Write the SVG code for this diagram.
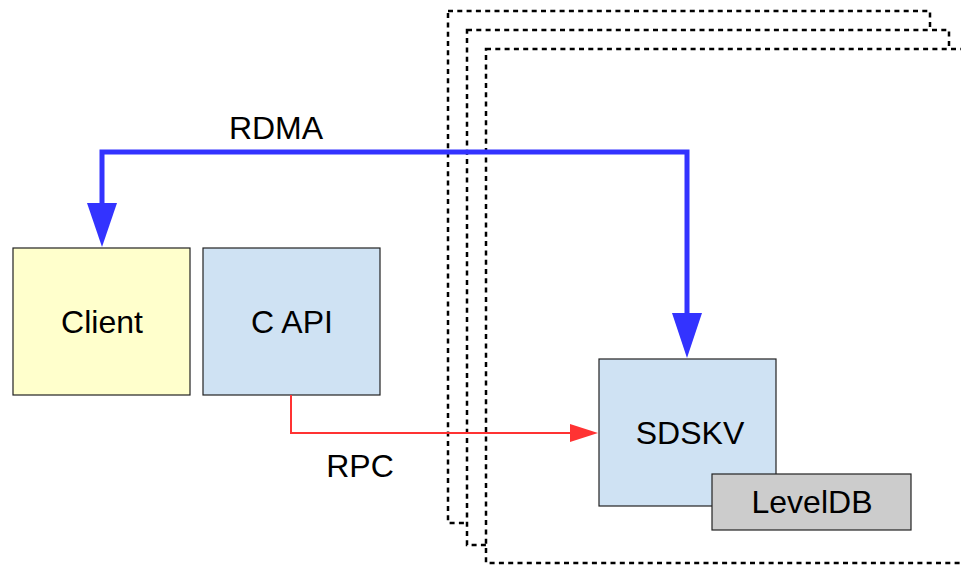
<svg xmlns="http://www.w3.org/2000/svg" width="961" height="565" viewBox="0 0 961 565">
<style>
.frame{fill:#fff;stroke:#000;stroke-width:2.5;stroke-dasharray:5,4.3}
.box{stroke:#222;stroke-width:1.2}
.lbl{font-family:"Liberation Sans",Arial,sans-serif;font-size:32px;fill:#000;text-anchor:middle}
.rdma{fill:none;stroke:#3333ff;stroke-width:5}
.rpc{fill:none;stroke:#ff3333;stroke-width:2}
</style>
<rect width="961" height="565" fill="#fff"/>
<g id="frames">
<rect class="frame" x="448" y="11" width="482" height="512"/>
<rect class="frame" x="467" y="30" width="482" height="515"/>
<rect class="frame" x="486" y="49" width="482" height="514"/>
</g>
<g id="client"><rect class="box" x="13" y="248" width="177" height="147" fill="#ffffcc"/><text class="lbl" x="102" y="333">Client</text></g>
<g id="capi"><rect class="box" x="203" y="248" width="177" height="147" fill="#cfe2f3"/><text class="lbl" x="292" y="333">C API</text></g>
<g id="sdskv"><rect class="box" x="599" y="359" width="177" height="147" fill="#cfe2f3"/><text class="lbl" x="690" y="444">SDSKV</text></g>
<g id="leveldb"><rect class="box" x="712" y="474" width="199" height="56" fill="#cccccc"/><text class="lbl" x="812" y="513">LevelDB</text></g>
<g id="connectors">
<polyline class="rdma" points="102,210 102,152 687,152 687,320"/>
<polygon points="87,203 117,203 102,247" fill="#3333ff"/>
<polygon points="672,313 702,313 687,358" fill="#3333ff"/>
<polyline class="rpc" points="291,395 291,433 575,433"/>
<polygon points="570,424 570,442 598,433" fill="#ff3333"/>
<text class="lbl" x="276" y="139">RDMA</text>
<text class="lbl" x="360" y="477">RPC</text>
</g>
</svg>
